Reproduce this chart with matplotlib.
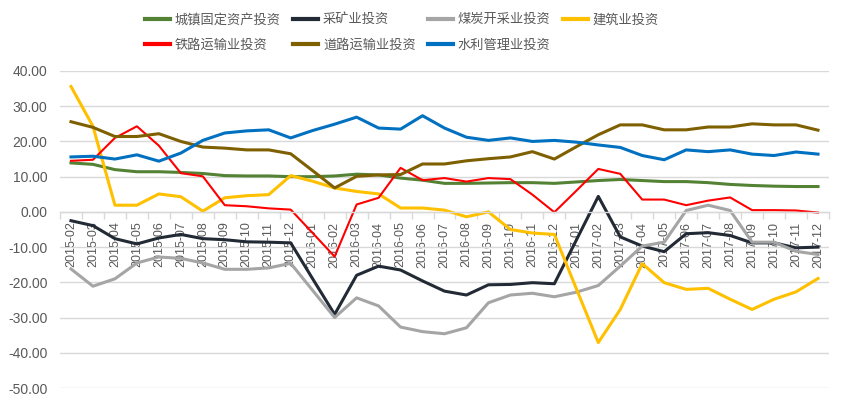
import numpy as np
import matplotlib
matplotlib.use('Agg')
import matplotlib.pyplot as plt
from matplotlib.ticker import FormatStrFormatter, FixedLocator

plt.rcParams['font.family'] = ['Liberation Sans', 'Noto Sans CJK SC', 'DejaVu Sans']

# 月份
months = ['2015-02', '2015-03', '2015-04', '2015-05', '2015-06', '2015-07', '2015-08',
          '2015-09', '2015-10', '2015-11', '2015-12',
          '2016-01', '2016-02', '2016-03', '2016-04', '2016-05', '2016-06', '2016-07',
          '2016-08', '2016-09', '2016-10', '2016-11', '2016-12',
          '2017-01', '2017-02', '2017-03', '2017-04', '2017-05', '2017-06', '2017-07',
          '2017-08', '2017-09', '2017-10', '2017-11', '2017-12']

# 各行业投资累计同比 (%)
fai = [13.9, 13.5, 12.0, 11.4, 11.4, 11.2, 10.9, 10.3, 10.2, 10.2, 10.0,
       10.0, 10.2, 10.7, 10.5, 9.6, 9.0, 8.1, 8.1, 8.2, 8.3, 8.3, 8.1,
       8.5, 8.9, 9.2, 8.9, 8.6, 8.6, 8.3, 7.8, 7.5, 7.3, 7.2, 7.2]
mining = [-2.5, -3.9, -7.6, -9.1, -7.4, -6.4, -7.6, -7.9, -8.5, -8.6, -8.8,
          -19.0, -29.1, -18.0, -15.4, -16.5, -19.6, -22.5, -23.6, -20.7, -20.6, -20.1, -20.4,
          -8.0, 4.4, -7.1, -9.7, -11.3, -6.2, -5.9, -6.7, -8.8, -8.8, -10.2, -10.0]
coal = [-16.2, -21.1, -19.0, -14.5, -12.8, -13.2, -14.5, -16.3, -16.3, -15.9, -14.6,
        -22.3, -30.0, -24.4, -26.7, -32.7, -34.0, -34.6, -32.9, -25.8, -23.6, -23.1, -24.1,
        -22.8, -20.9, -15.4, -9.7, -8.6, 0.4, 1.9, 0.4, -8.6, -8.6, -11.2, -12.1]
construction = [35.6, 24.3, 1.9, 1.9, 5.1, 4.3, 0.2, 4.0, 4.6, 4.9, 10.3,
                8.7, 6.8, 5.8, 5.1, 1.1, 1.1, 0.5, -1.4, 0.0, -5.0, -6.0, -6.4,
                -21.8, -37.1, -27.7, -14.7, -20.1, -22.0, -21.7, -24.8, -27.7, -24.8, -22.7, -18.9]
railway = [14.5, 14.8, 21.0, 24.3, 18.8, 11.0, 10.1, 1.9, 1.6, 1.0, 0.65,
           -6.0, -12.7, 2.1, 4.0, 12.5, 9.0, 9.6, 8.6, 9.6, 9.3, 4.9, -0.1,
           6.0, 12.2, 10.8, 3.5, 3.5, 1.9, 3.2, 4.1, 0.5, 0.5, 0.4, -0.2]
road = [25.6, 24.0, 21.4, 21.4, 22.2, 20.0, 18.4, 18.1, 17.6, 17.6, 16.5,
        11.7, 6.8, 10.1, 10.5, 10.6, 13.6, 13.6, 14.5, 15.1, 15.6, 17.1, 15.0,
        18.5, 21.9, 24.7, 24.7, 23.3, 23.3, 24.1, 24.1, 25.0, 24.7, 24.7, 23.2]
water = [15.6, 15.8, 15.0, 16.2, 14.4, 16.7, 20.3, 22.4, 23.0, 23.3, 21.0,
         23.1, 24.9, 26.9, 23.8, 23.5, 27.3, 23.8, 21.2, 20.3, 21.0, 20.0, 20.3,
         19.8, 19.0, 18.3, 16.0, 14.8, 17.6, 17.1, 17.6, 16.4, 16.0, 17.0, 16.4]

names = ['城镇固定资产投资', '采矿业投资', '煤炭开采业投资', '建筑业投资',
         '铁路运输业投资', '道路运输业投资', '水利管理业投资']
colors = ['#548235', '#222a35', '#a5a5a5', '#ffc000', '#ff0000', '#7f6000', '#0070c0']
widths = [2.2, 2.2, 2.2, 2.2, 1.5, 2.2, 2.2]
series = [fai, mining, coal, construction, railway, road, water]

fig = plt.figure(figsize=(8.43, 4.03), dpi=100)
ax = fig.add_axes([60/843, 15/403, (829-60)/843, (388-71)/403])

x = np.arange(len(months))
lines = []
for s, nm, c, w in zip(series, names, colors, widths):
    ln, = ax.plot(x, s, color=c, lw=w, label=nm, solid_joinstyle='round')
    lines.append(ln)

ax.set_xlim(-0.5, len(months) - 0.5)
ax.set_ylim(-50, 40)
ax.set_yticks(np.arange(-50, 41, 10))
ax.yaxis.set_major_formatter(FormatStrFormatter('%.2f'))
ax.grid(axis='y', color='#d9d9d9', lw=1.0)
ax.set_axisbelow(True)

for sp in ['top', 'right', 'left']:
    ax.spines[sp].set_visible(False)
ax.spines['bottom'].set_position(('data', 0))
ax.spines['bottom'].set_color('#d9d9d9')
ax.spines['bottom'].set_linewidth(1.0)

ax.set_xticks(x)
ax.set_xticklabels(months, rotation=90, fontsize=9, color='#595959')
ax.xaxis.set_minor_locator(FixedLocator(np.arange(-0.5, len(months), 1)))
ax.tick_params(axis='x', which='major', length=0, pad=7)
ax.tick_params(axis='x', which='minor', length=5, color='#d9d9d9', width=1.0)
ax.tick_params(axis='y', length=0, pad=9, labelsize=10, labelcolor='#595959')

order = [0, 4, 1, 5, 2, 6, 3]
leg = fig.legend([lines[i] for i in order], [names[i] for i in order],
                 loc='upper center', bbox_to_anchor=(0.477, 1 - 4/403), ncol=4,
                 frameon=False, prop={'family': ['Noto Sans CJK SC'], 'size': 9.5},
                 handlelength=1.9, handletextpad=0.35, columnspacing=0.95,
                 labelspacing=0.95, borderpad=0.2)
for t in leg.get_texts():
    t.set_color('#595959')
for h in leg.legend_handles:
    h.set_linewidth(3)

fig.savefig('out.png', dpi=100)
